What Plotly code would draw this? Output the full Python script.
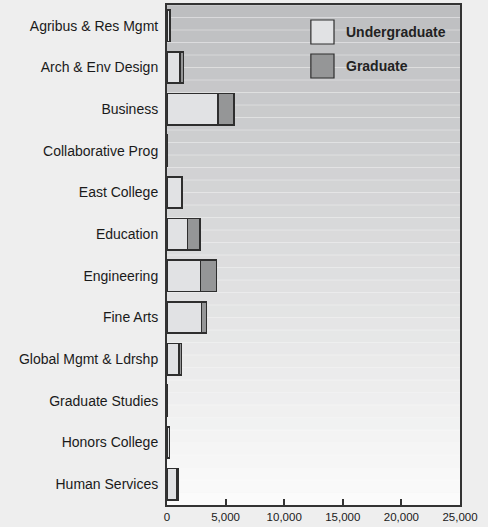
import plotly.graph_objects as go

colleges = ["Agribus & Res Mgmt", "Arch & Env Design", "Business", "Collaborative Prog",
            "East College", "Education", "Engineering", "Fine Arts",
            "Global Mgmt & Ldrshp", "Graduate Studies", "Honors College", "Human Services"]
undergraduate = [220, 1120, 4330, 15, 1250, 1770, 2870, 2960, 1020, 10, 220, 790]
graduate = [60, 290, 1380, 10, 40, 1050, 1370, 400, 200, 40, 0, 150]
x_ticks = [0, 5000, 10000, 15000, 20000, 25000]
x_tick_labels = ["0", "5,000", "10,000", "15,000", "20,000", "25,000"]

FONT = "Liberation Sans, Arial, sans-serif"
UG_COLOR = "#e1e2e4"
GR_COLOR = "#959697"
EDGE = "#2e2e2e"

fig = go.Figure()
fig.add_trace(go.Bar(y=colleges, x=undergraduate, orientation="h", name="Undergraduate",
                     marker=dict(color=UG_COLOR, line=dict(color=EDGE, width=1.5)),
                     showlegend=False))
fig.add_trace(go.Bar(y=colleges, x=graduate, orientation="h", name="Graduate",
                     marker=dict(color=GR_COLOR, line=dict(color=EDGE, width=1.5)),
                     showlegend=False))

# gradient background bands
shapes = []
n = 40
top = (0xbd, 0xbe, 0xc0)
bot = (0xfb, 0xfb, 0xfb)
for i in range(n):
    t = i / (n - 1)
    c = tuple(round(top[k] + (bot[k] - top[k]) * t) for k in range(3))
    y1 = 1 - i / n
    y0 = 1 - (i + 1) / n
    shapes.append(dict(type="rect", xref="paper", yref="paper", x0=0, x1=1, y0=y0, y1=y1,
                       fillcolor="rgb(%d,%d,%d)" % c, line=dict(width=0), layer="below"))
    shapes.append(dict(type="line", xref="paper", yref="paper", x0=0, x1=1, y0=y1, y1=y1,
                       line=dict(color="rgba(255,255,255,0.35)", width=1), layer="below"))

# legend boxes (manual)
shapes.append(dict(type="rect", xref="paper", yref="paper", x0=0.491, x1=0.570,
                   y0=0.922, y1=0.970, fillcolor=UG_COLOR, line=dict(color=EDGE, width=1.2)))
shapes.append(dict(type="rect", xref="paper", yref="paper", x0=0.491, x1=0.570,
                   y0=0.854, y1=0.902, fillcolor=GR_COLOR, line=dict(color=EDGE, width=1.2)))
annotations = [
    dict(xref="paper", yref="paper", x=0.605, y=0.946, text="<b>Undergraduate</b>",
         showarrow=False, xanchor="left", yanchor="middle",
         font=dict(family=FONT, size=14, color="#222")),
    dict(xref="paper", yref="paper", x=0.605, y=0.878, text="<b>Graduate</b>",
         showarrow=False, xanchor="left", yanchor="middle",
         font=dict(family=FONT, size=14, color="#222")),
]

fig.update_layout(
    width=488, height=527,
    margin=dict(l=167, r=28, t=5, b=22, autoexpand=False),
    paper_bgcolor="#eeeeee",
    plot_bgcolor="#e0e0e0",
    barmode="stack",
    bargap=0.25,
    shapes=shapes,
    annotations=annotations,
    font=dict(family=FONT, color="#222"),
    xaxis=dict(range=[0, 25000], tickvals=x_ticks, ticktext=x_tick_labels,
               ticks="inside", ticklen=6, tickcolor="#333", tickwidth=1.5,
               showgrid=False, zeroline=False, showline=True, linecolor="#333",
               linewidth=2, mirror=True, automargin=False,
               tickfont=dict(size=11.5, family=FONT, color="#1a1a1a")),
    yaxis=dict(autorange="reversed", showgrid=False, zeroline=False, showline=True,
               linecolor="#333", linewidth=2, mirror=True, ticks="",
               ticklabelstandoff=4, automargin=False,
               tickfont=dict(size=14, family=FONT, color="#1a1a1a")),
)

fig.write_html("out.html", config={"displayModeBar": False},
               post_script="document.body.style.margin='0';document.body.style.overflow='hidden';")
